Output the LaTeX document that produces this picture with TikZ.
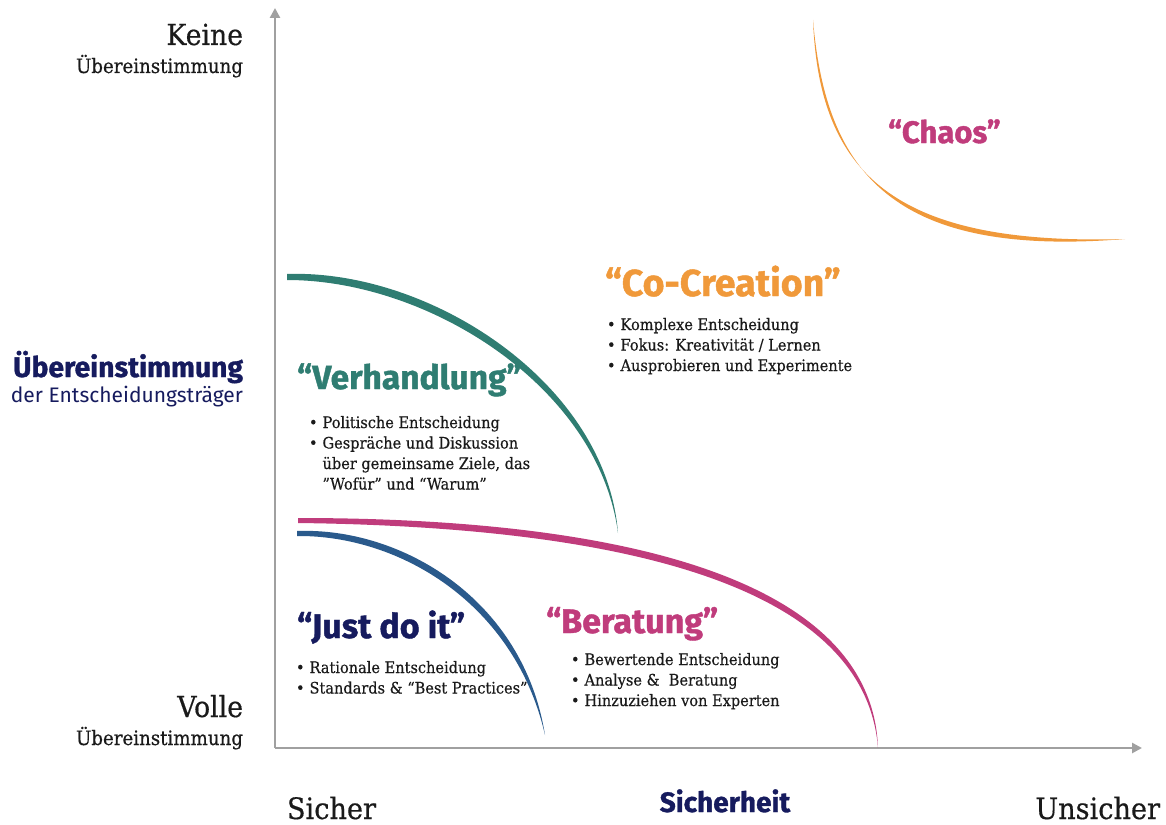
\documentclass[tikz,border=0pt]{standalone}
\usepackage{fontspec}
\setmainfont{DejaVu Serif}[FakeStretch=0.92,FakeBold=0.5]
\newfontfamily\headfont{Fira Sans}[BoldFeatures={FakeBold=1.2}]
\usetikzlibrary{arrows.meta}
\definecolor{teal2}{HTML}{2F7D72}
\definecolor{orng}{HTML}{F0993A}
\definecolor{mgnt}{HTML}{C03C7C}
\definecolor{navy}{HTML}{161B5E}
\definecolor{blu}{HTML}{2A5A8C}
\definecolor{axisgray}{HTML}{A0A0A0}
\definecolor{txt}{HTML}{1A1A1A}
\tikzset{
  lbl/.style={inner sep=0pt, outer sep=0pt, text=txt},
  ttl/.style={inner sep=0pt, outer sep=0pt, font=\headfont\bfseries\fontsize{34}{34}\selectfont, anchor=base west},
  blist/.style={inner sep=0pt, outer sep=0pt, text=txt, anchor=base west, font=\fontsize{15.8}{20.5}\selectfont},
  axis/.style={draw=axisgray, line width=2.6pt, -{Triangle[length=10pt,width=10pt]}},
}
\newcommand{\bl}[1]{\begin{tabular}[t]{@{}l@{\hspace{5pt}}l@{}}#1\end{tabular}}
\begin{document}
\begin{tikzpicture}[x=1pt,y=-1pt]
\useasboundingbox (0,0) rectangle (1166,824);
% axes
\coordinate (O) at (275,748);
\coordinate (Ytop) at (275,8);
\coordinate (Xend) at (1142,748);
\draw[axis] (O) -- (Ytop);
\draw[axis] (O) -- (Xend);

% curves (tapered strokes)
\fill[orng] (813,20) .. controls (826,172) and (892,258) .. (1125,239)
  .. controls (892,246) and (819,172) .. (813,20) -- cycle;
\fill[teal2] (287,274) .. controls (430,269) and (606,383) .. (618,533)
  .. controls (599,388) and (430,280) .. (287,280) -- cycle;
\fill[mgnt] (298,518) .. controls (620,518) and (872,578) .. (878,748)
  .. controls (865,584) and (620,527) .. (298,523) -- cycle;
\fill[blu] (297,531) .. controls (400,527) and (523,598) .. (545,735)
  .. controls (515,604) and (400,535) .. (297,536) -- cycle;

% left labels
\node[lbl, anchor=base east, font=\fontsize{29}{29}\selectfont] (keine) at (243,45) {Keine};
\node[lbl, anchor=base east, font=\fontsize{19.8}{19.8}\selectfont] (ueb1) at (243,73) {Übereinstimmung};
\node[lbl, anchor=base east, text=navy, font=\headfont\bfseries\fontsize{28.3}{28.3}\selectfont] (ueb2) at (243,377) {Übereinstimmung};
\node[lbl, anchor=base east, text=navy, font=\headfont\fontsize{21}{21}\selectfont] (der) at (243,402) {der Entscheidungsträger};
\node[lbl, anchor=base east, font=\fontsize{29}{29}\selectfont] (volle) at (243,717) {Volle};
\node[lbl, anchor=base east, font=\fontsize{19.8}{19.8}\selectfont] (ueb3) at (243,745) {Übereinstimmung};

% bottom labels
\node[lbl, anchor=base west, font=\fontsize{29.5}{29.5}\selectfont] (sicher) at (287,819) {Sicher};
\node[lbl, anchor=base, text=navy, font=\headfont\bfseries\fontsize{28}{28}\selectfont] (sicherheit) at (725,812) {Sicherheit};
\node[lbl, anchor=base east, font=\fontsize{29.5}{29.5}\selectfont] (unsicher) at (1160,819) {Unsicher};

% titles
\node[ttl, text=mgnt, font=\headfont\bfseries\fontsize{31}{31}\selectfont] (chaos) at (888,143) {“Chaos”};
\node[ttl, text=orng, font=\headfont\bfseries\fontsize{37.5}{37.5}\selectfont] (cocr) at (605,296) {“Co-Creation”};
\node[ttl, text=teal2, font=\headfont\bfseries\fontsize{33.5}{33.5}\selectfont] (verh) at (297,389) {“Verhandlung”};
\node[ttl, text=navy] (just) at (297,638) {“Just do it”};
\node[ttl, text=mgnt] (berat) at (546,633) {“Beratung”};

% bullet lists
\node[blist] (cocrl) at (607,330) {\bl{• & Komplexe Entscheidung\\ • & Fokus: Kreativität / Lernen\\ • & Ausprobieren und Experimente}};
\node[blist] (verhl) at (309,428) {\bl{• & Politische Entscheidung\\ • & Gespräche und Diskussion\\ & über gemeinsame Ziele, das\\ & ”Wofür” und “Warum”}};
\node[blist] (justl) at (296,673) {\bl{• & Rationale Entscheidung\\ • & Standards \& “Best Practices”}};
\node[blist] (beratl) at (571,665) {\bl{• & Bewertende Entscheidung\\ • & Analyse \&\ \ Beratung\\ • & Hinzuziehen von Experten}};
\end{tikzpicture}
\end{document}
